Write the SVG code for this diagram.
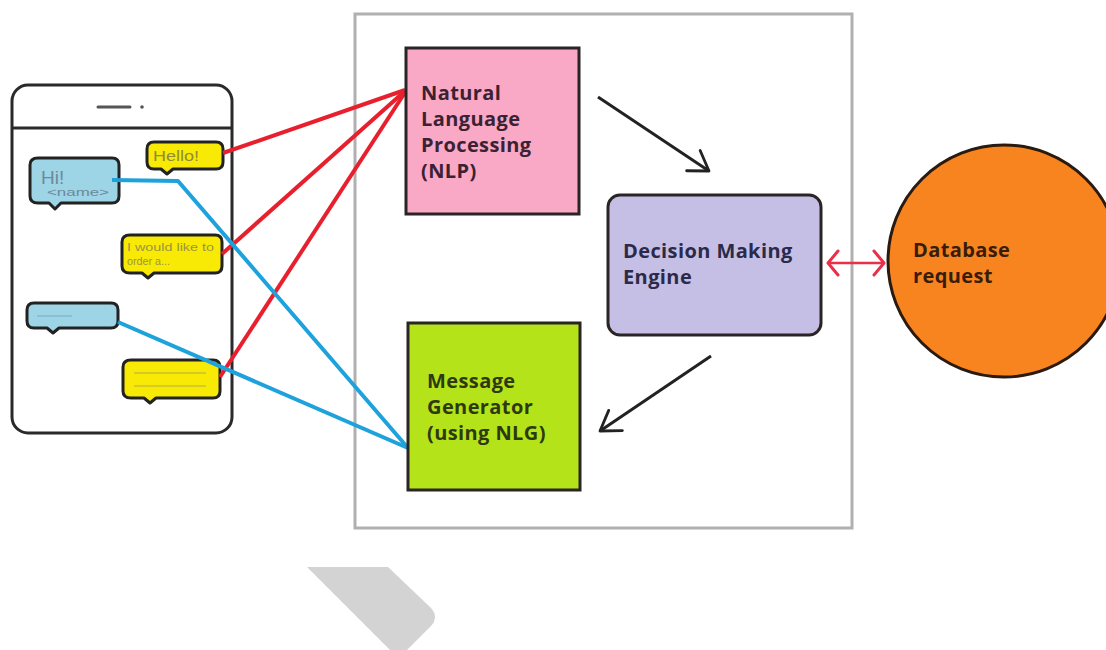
<svg xmlns="http://www.w3.org/2000/svg" width="1106" height="650" viewBox="0 0 1106 650">
<style>
.box{stroke:#2a2424;stroke-width:3}
.lbl{font-family:"Open Sans",Lato,sans-serif;font-weight:700;font-size:20px;letter-spacing:0.4px}
.bub{stroke:#222;stroke-width:3;stroke-linejoin:round}
.yel{fill:#f8ea05}
.blu{fill:#9dd4e6}
.red{stroke:#e8202e;stroke-width:4;fill:none}
.cyan{stroke:#1ea2dc;stroke-width:4;fill:none;stroke-linejoin:round}
.blk{stroke:#222;stroke-width:3;fill:none}
.small{font-family:"Liberation Sans",Arial,sans-serif}
</style>
<defs>
<marker id="chev" markerUnits="userSpaceOnUse" markerWidth="30" markerHeight="30" viewBox="-24 -16 28 32" refX="0" refY="0" orient="auto">
<path d="M-20,-13 L0,0 L-20,13" fill="none" stroke="#222" stroke-width="3" stroke-linecap="round" stroke-linejoin="round"/>
</marker>
<marker id="redchev" markerUnits="userSpaceOnUse" markerWidth="20" markerHeight="30" viewBox="-14 -15 18 30" refX="0" refY="0" orient="auto-start-reverse">
<path d="M-10,-12 L0,0 L-10,12" fill="none" stroke="#e8304a" stroke-width="3" stroke-linecap="round" stroke-linejoin="round"/>
</marker>
</defs>
<rect width="1106" height="650" fill="#ffffff"/>

<g id="container">
<rect x="355" y="14" width="497" height="514" fill="#ffffff" stroke="#b0b0b0" stroke-width="3"/>
</g>

<g id="phone">
<rect x="12" y="85" width="220" height="348" rx="16" fill="#ffffff" stroke="#2a2a2a" stroke-width="3"/>
<line x1="12" y1="128" x2="232" y2="128" stroke="#2a2a2a" stroke-width="3"/>
<line x1="98" y1="107" x2="130" y2="107" stroke="#555" stroke-width="3" stroke-linecap="round"/>
<circle cx="142" cy="107" r="1.8" fill="#555"/>
</g>

<g id="bubble-hello">
<path class="bub yel" d="M154,142 H216 Q223,142 223,149 V162 Q223,169 216,169 H173 L167,174 L161,169 H154 Q147,169 147,162 V149 Q147,142 154,142 Z"/>
<text x="153" y="161" class="small" font-size="15" fill="#8f8a3c" textLength="46" lengthAdjust="spacingAndGlyphs">Hello!</text>
</g>
<g id="bubble-hi">
<path class="bub blu" d="M38,158 H112 Q119,158 119,165 V196 Q119,203 112,203 H61 L55,209 L49,203 H38 Q30,203 30,196 V165 Q30,158 38,158 Z"/>
<text x="41" y="184" class="small" font-size="19" fill="#6b8a9a">Hi!</text>
<text x="47" y="196" class="small" font-size="11" fill="#6b8a9a" textLength="62" lengthAdjust="spacingAndGlyphs">&lt;name&gt;</text>
</g>
<g id="bubble-order">
<path class="bub yel" d="M130,235 H215 Q222,235 222,242 V266 Q222,273 215,273 H154 L148,278 L142,273 H130 Q122,273 122,266 V242 Q122,235 130,235 Z"/>
<text x="127" y="251" class="small" font-size="10.5" fill="#9a9440" textLength="87" lengthAdjust="spacingAndGlyphs">I would like to</text>
<text x="127" y="265" class="small" font-size="10.5" fill="#9a9440" textLength="43" lengthAdjust="spacingAndGlyphs">order a...</text>
</g>
<g id="bubble-blue2">
<path class="bub blu" d="M34,303 H111 Q118,303 118,310 V321 Q118,328 111,328 H59 L53,333 L47,328 H34 Q27,328 27,321 V310 Q27,303 34,303 Z"/>
<line x1="37" y1="316" x2="72" y2="316" stroke="#7aa9c0" stroke-width="1.2"/>
</g>
<g id="bubble-yellow3">
<path class="bub yel" d="M131,360 H213 Q220,360 220,367 V391 Q220,398 213,398 H156 L150,403 L144,398 H131 Q123,398 123,391 V367 Q123,360 131,360 Z"/>
<line x1="134" y1="373" x2="206" y2="373" stroke="#b3aa45" stroke-width="1.2"/>
<line x1="134" y1="386" x2="206" y2="386" stroke="#b3aa45" stroke-width="1.2"/>
</g>

<g id="connectors">
<line class="red" x1="223" y1="153" x2="405" y2="90"/>
<line class="red" x1="222" y1="254" x2="405" y2="91"/>
<line class="red" x1="220" y1="377" x2="404" y2="94"/>
<polyline class="cyan" points="112,180 178,181 408,448"/>
<line class="cyan" x1="118" y1="322" x2="408" y2="448"/>
<line class="blk" x1="598" y1="97" x2="709" y2="171" marker-end="url(#chev)"/>
<line class="blk" x1="711" y1="356" x2="600" y2="431" marker-end="url(#chev)"/>
<line x1="828" y1="263" x2="884" y2="263" stroke="#e8304a" stroke-width="2.5" marker-start="url(#redchev)" marker-end="url(#redchev)"/>
</g>

<g id="nlp">
<rect class="box" x="406" y="48" width="173" height="166" fill="#f9a8c6"/>
<text class="lbl" fill="#3b2233"><tspan x="421" y="100">Natural</tspan><tspan x="421" y="126">Language</tspan><tspan x="421" y="152">Processing</tspan><tspan x="421" y="178">(NLP)</tspan></text>
</g>

<g id="decision">
<rect class="box" x="608" y="195" width="213" height="140" rx="12" fill="#c5bfe6"/>
<text class="lbl" fill="#2c2a48"><tspan x="623" y="258">Decision Making</tspan><tspan x="623" y="284">Engine</tspan></text>
</g>

<g id="generator">
<rect class="box" x="408" y="323" width="172" height="167" fill="#b5e31a"/>
<text class="lbl" fill="#2d3a10"><tspan x="427" y="388">Message</tspan><tspan x="427" y="414">Generator</tspan><tspan x="427" y="440">(using NLG)</tspan></text>
</g>

<g id="database">
<circle cx="1004" cy="261" r="116" fill="#f7841f" stroke="#2a1a10" stroke-width="3"/>
<text class="lbl" fill="#3a1c0a"><tspan x="913" y="257">Database</tspan><tspan x="913" y="283">request</tspan></text>
</g>

<path d="M307,567 L388,567 L431,608 Q439,617 431,626 L407,650 L390,650 Z" fill="#d3d3d3"/>
</svg>
